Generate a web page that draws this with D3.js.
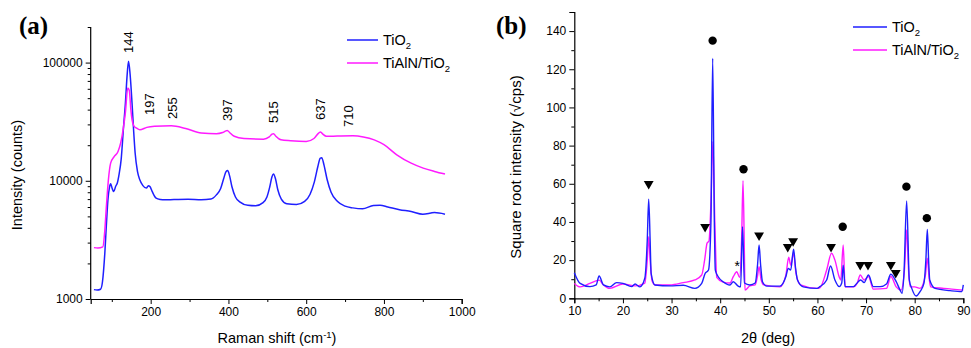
<!DOCTYPE html>
<html>
<head>
<meta charset="utf-8">
<script src="https://cdn.jsdelivr.net/npm/d3@7"></script>
<style>
  body { margin: 0; background: #fff; }
  svg { font-family: "Liberation Sans", Arial, sans-serif; }
  .tick text { font-size: 12px; fill: #000; }
</style>
</head>
<body>
<svg id="chart" width="971" height="348"></svg>
<script>
// ---- data: (a) Raman spectra [shift cm-1, counts]
const ramanTiO2 = [[54,1200],[62,1190],[71,1210],[76,1400],[82,2440],[86,4200],[90,6900],[94,8800],[97,9440],[101,8600],[105,8100],[110,9000],[114,9540],[119,11500],[124,15100],[130,28000],[135,45500],[139,75000],[143,102600],[147,80000],[152,45500],[156,27000],[160,17200],[166,12000],[172,10200],[180,9100],[189,8670],[194,9100],[198,8960],[204,8100],[214,7130],[225,6950],[236,6900],[260,6950],[296,6990],[330,6900],[355,7000],[369,7600],[380,8600],[388,10500],[394,12000],[398,12200],[403,11000],[409,8900],[418,7300],[430,6600],[450,6200],[470,6140],[488,6500],[499,7300],[506,8800],[512,10800],[516,11400],[521,10400],[527,8400],[536,7000],[550,6400],[575,6300],[596,6700],[610,7700],[621,9800],[630,13200],[636,15500],[640,15700],[646,13500],[654,10200],[664,8000],[680,6700],[700,6100],[720,5900],[745,5800],[773,6170],[790,6200],[810,6000],[840,5700],[870,5500],[900,5220],[930,5380],[957,5220]];
const ramanTiAlN = [[54,2720],[64,2700],[77,2760],[82,3800],[86,6050],[91,10000],[97,14100],[106,16000],[116,17700],[123,21000],[129,27000],[135,38000],[141,61000],[145,58000],[149,40000],[152,32900],[157,29000],[163,28000],[172,27000],[190,28300],[210,28900],[253,29200],[290,27700],[330,25400],[369,25000],[385,25600],[392,26300],[397,26700],[403,25600],[415,23800],[440,22800],[490,22500],[505,23500],[512,24800],[516,25000],[522,23800],[535,22200],[560,21800],[600,21500],[620,22800],[632,25300],[637,25900],[643,24800],[652,23800],[680,23900],[720,24000],[747,23500],[775,22200],[800,20200],[833,16600],[870,14100],[901,12800],[930,12000],[957,11400]];
const ramanPeakPos = [144, 197, 255, 397, 515, 637, 710];
const ramanPeakLabels = ["144", "197", "255", "397", "515", "637", "710"];
const ramanLabelLevel = [53, 115, 119, 121, 123, 120, 127]; // pixel row where each rotated label starts

// ---- data: (b) XRD patterns [2theta deg, sqrt cps]
const xrdTiO2 = [[10,13.4],[11.2,7.8],[13.2,6.1],[14.5,7],[15.1,11.7],[16,7],[17.3,6],[18.7,8.2],[20,7.8],[21.8,6.1],[22.5,7.5],[23.5,6],[24.5,10.5],[25.0,30],[25.3,51.9],[25.6,30],[25.8,13.1],[26.6,7],[29.7,6.5],[32.4,6.8],[34.8,5.2],[36.2,7.8],[36.9,13],[37.6,14.8],[38.1,40],[38.46,125.7],[38.8,40],[39.0,14.8],[39.6,11.3],[40.6,8.7],[42,7],[42.7,8.7],[43.7,6.4],[44.2,6],[44.6,37.5],[45,8],[46.1,7],[47.2,8],[47.7,18],[48.0,27.9],[48.3,18],[48.7,8.7],[49.6,6.4],[52.3,6.4],[53.5,11.3],[54.0,15.7],[54.5,14.8],[55.1,25.7],[55.5,16],[55.9,9.6],[57.1,6],[59.9,5.2],[60.5,6.1],[61.9,9.6],[62.7,16.9],[63.6,9.6],[64.5,6.1],[65.0,8],[65.3,17.4],[65.7,6.1],[67.4,6.1],[68.4,8.7],[68.9,9.6],[69.6,8.2],[70.5,12.2],[71.5,6.1],[72.9,6.1],[74.2,7.5],[75.1,12.6],[76.2,8.7],[77,4.3],[77.4,2.6],[77.8,13],[78.35,51],[78.9,9.6],[79.4,5.2],[80.3,1.2],[81.1,3.5],[81.9,7.8],[82.3,20],[82.6,36.1],[82.9,18],[83.1,9.6],[84.2,5.2],[87.3,4],[89.7,3.5],[90,7]];
const xrdTiAlN = [[10,7.8],[11.2,6],[13.2,7.8],[15.1,9.5],[16,7],[17.3,5.2],[20,7.5],[22.5,6.5],[24.5,8],[25.0,20],[25.3,32.3],[25.6,20],[26,9],[26.6,7],[29.7,7],[32.4,8.2],[34.8,9.6],[36.2,12.2],[36.8,20],[37.3,28.8],[37.7,30],[38.1,50],[38.5,82],[38.9,40],[39.3,11],[40.6,8.5],[42,8],[42.7,11.3],[43.4,13.9],[44,11],[44.4,30],[44.7,61.6],[45.0,20],[45.1,4.3],[46.1,6.5],[47.2,7],[47.7,12],[48,16.6],[48.4,10],[49,7],[52.3,6],[53.5,12],[54.1,21.5],[54.5,17.4],[55.1,23.5],[55.6,13],[56.5,7],[59.9,5.2],[60.5,5.5],[61.9,14.8],[62.9,23.6],[63.6,20],[64.5,11],[64.8,9.6],[65.3,27.9],[65.7,6],[67.4,6],[68.2,8],[68.8,12.2],[69.6,9.6],[70.5,11.4],[71.5,4.8],[74.2,5.2],[75.1,11.4],[76.2,6],[77.2,4.3],[77.9,15],[78.35,35.8],[78.8,12],[79.1,6],[80,6],[81.1,5.2],[82.2,12],[82.6,21],[83.0,10],[83.3,6],[86,5.2],[90,4.3]];
const anataseMarks = [[25.3,60],[36.9,37.5],[48,33],[53.9,27],[55.0,30],[62.8,27],[68.8,17.5],[70.4,17.5],[75.1,17.5],[76.1,13.3]];
const rutileMarks = [[38.45,135],[44.8,67.6],[65.2,37.5],[78.3,58.5],[82.5,42]];
const starMarks = [[43.5,17.5]];

const blue = "#1f1fff", pink = "#ff1aff";
const svg = d3.select("#chart");

// ===================== panel (a) =====================
const ax = d3.scaleLinear().domain([45.7, 1000]).range([90.7, 461.7]);
const ay = d3.scaleLog().domain([1000, 200000]).range([299, 27]);
const ga = svg.append("g");

// x axis
ga.append("g").attr("transform", "translate(0,299)")
  .call(d3.axisBottom(ax).tickValues([200,400,600,800,1000]).tickFormat(d3.format("d")).tickSize(5).tickPadding(3))
  .call(g => g.select(".domain").attr("stroke-width", 1.2));
ga.append("g").attr("transform", "translate(0,299)")
  .call(d3.axisBottom(ax).tickValues([100,300,500,700,900]).tickFormat("").tickSize(3))
  .call(g => g.select(".domain").remove());
// y axis
ga.append("g").attr("transform", "translate(90.7,0)")
  .call(d3.axisLeft(ay).tickValues([1000,10000,100000]).tickFormat(d3.format("d")).tickSize(5).tickPadding(3))
  .call(g => g.select(".domain").attr("d", "M0,299V27").attr("stroke-width", 1.2));
const minorLog = [];
[1000, 10000, 100000].forEach(d => { for (let k = 2; k <= 9; k++) if (d * k <= 200000) minorLog.push(d * k); });
ga.append("g").attr("transform", "translate(90.7,0)")
  .call(d3.axisLeft(ay).tickValues(minorLog).tickFormat("").tickSize(3))
  .call(g => g.select(".domain").remove());

const lineA = d3.line().x(d => ax(d[0])).y(d => ay(d[1])).curve(d3.curveMonotoneX);
ga.append("path").attr("d", lineA(ramanTiO2)).attr("fill", "none").attr("stroke", blue).attr("stroke-width", 1.5);
ga.append("path").attr("d", lineA(ramanTiAlN)).attr("fill", "none").attr("stroke", pink).attr("stroke-width", 1.5);

// rotated peak labels
ga.selectAll("text.peak").data(ramanPeakPos).enter().append("text")
  .attr("class", "peak")
  .attr("transform", (d, i) => `translate(${ax(d) + 4.5},${ramanLabelLevel[i]}) rotate(-90)`)
  .attr("font-size", 13).text((d, i) => ramanPeakLabels[i]);

// titles
ga.append("text").attr("transform", "translate(22,175) rotate(-90)").attr("text-anchor", "middle")
  .attr("font-size", 14.5).text("Intensity (counts)");
const xt = ga.append("text").attr("x", 277).attr("y", 343).attr("text-anchor", "middle").attr("font-size", 14.5);
xt.append("tspan").text("Raman shift (cm");
xt.append("tspan").attr("dy", -5).attr("font-size", 9.5).text("-1");
xt.append("tspan").attr("dy", 5).text(")");
ga.append("text").attr("x", 19).attr("y", 34).attr("font-family", "Liberation Serif, serif")
  .attr("font-weight", "bold").attr("font-size", 25).text("(a)");

// ===================== panel (b) =====================
const bx = d3.scaleLinear().domain([10, 90]).range([574.3, 963.3]);
const by = d3.scaleLinear().domain([0, 150]).range([298.3, 12]);
const gb = svg.append("g");

gb.append("g").attr("transform", "translate(0,298.3)")
  .call(d3.axisBottom(bx).tickValues(d3.range(10, 91, 10)).tickSize(5).tickPadding(3))
  .call(g => g.select(".domain").attr("stroke-width", 1.2));
gb.append("g").attr("transform", "translate(0,298.3)")
  .call(d3.axisBottom(bx).tickValues(d3.range(15, 90, 10)).tickFormat("").tickSize(3))
  .call(g => g.select(".domain").remove());
gb.append("g").attr("transform", "translate(574.3,0)")
  .call(d3.axisLeft(by).tickValues(d3.range(0, 141, 20)).tickSize(5).tickPadding(3))
  .call(g => g.select(".domain").attr("stroke-width", 1.2));
gb.append("g").attr("transform", "translate(574.3,0)")
  .call(d3.axisLeft(by).tickValues(d3.range(10, 151, 20)).tickFormat("").tickSize(3))
  .call(g => g.select(".domain").remove());

const lineB = d3.line().x(d => bx(d[0])).y(d => by(d[1])).curve(d3.curveMonotoneX);
gb.append("path").attr("d", lineB(xrdTiAlN)).attr("fill", "none").attr("stroke", pink).attr("stroke-width", 1.4);
gb.append("path").attr("d", lineB(xrdTiO2)).attr("fill", "none").attr("stroke", blue).attr("stroke-width", 1.4);

// phase markers
gb.selectAll("path.tri").data(anataseMarks).enter().append("path")
  .attr("class", "tri")
  .attr("d", d3.symbol().type(d3.symbolTriangle).size(42))
  .attr("transform", d => `translate(${bx(d[0])},${by(d[1])}) rotate(180)`)
  .attr("fill", "#000");
gb.selectAll("circle.rut").data(rutileMarks).enter().append("circle")
  .attr("class", "rut").attr("cx", d => bx(d[0])).attr("cy", d => by(d[1])).attr("r", 4.2).attr("fill", "#000");
gb.selectAll("text.star").data(starMarks).enter().append("text")
  .attr("class", "star").attr("x", d => bx(d[0])).attr("y", d => by(d[1]) + 6)
  .attr("text-anchor", "middle").attr("font-size", 14).text("*");

gb.append("text").attr("transform", "translate(521,167) rotate(-90)").attr("text-anchor", "middle")
  .attr("font-size", 15).text("Square root intensity (√cps)");
gb.append("text").attr("x", 768).attr("y", 343).attr("text-anchor", "middle").attr("font-size", 14.5).text("2θ (deg)");
gb.append("text").attr("x", 496).attr("y", 34).attr("font-family", "Liberation Serif, serif")
  .attr("font-weight", "bold").attr("font-size", 25).text("(b)");

// ===================== legends =====================
function legend(g, x0, x1, y0, gap) {
  const items = [{ c: blue, pre: "TiO" }, { c: pink, pre: "TiAlN/TiO" }];
  items.forEach((it, i) => {
    const y = y0 + i * gap;
    g.append("line").attr("x1", x0).attr("x2", x1).attr("y1", y).attr("y2", y).attr("stroke", it.c).attr("stroke-width", 1.5);
    const t = g.append("text").attr("x", x1 + 5).attr("y", y + 5).attr("font-size", 14.5);
    t.append("tspan").text(it.pre);
    t.append("tspan").attr("dy", 4).attr("font-size", 9.5).text("2");
  });
}
legend(ga, 347, 378, 40, 23);
legend(gb, 853, 887, 27, 23);
</script>
</body>
</html>
